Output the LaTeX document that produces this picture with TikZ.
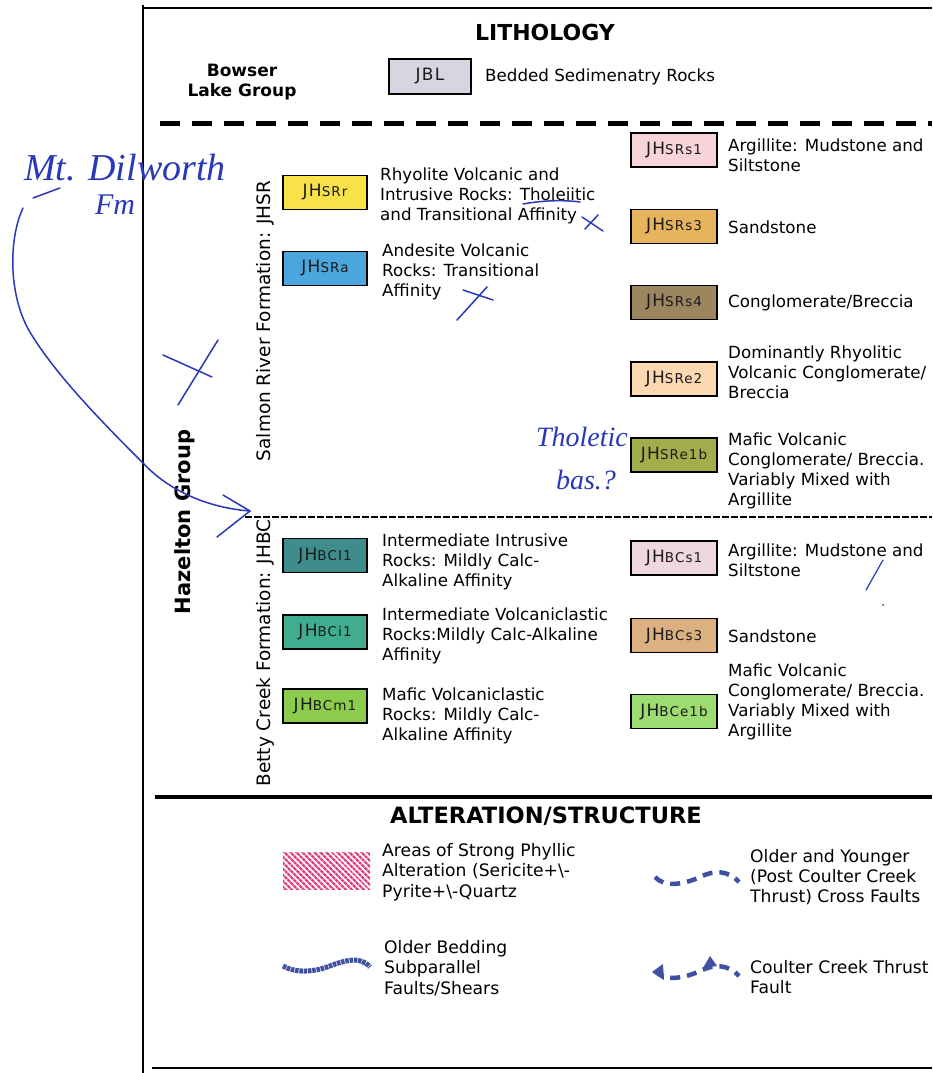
\documentclass[tikz,border=0pt]{standalone}
\usepackage{fontspec}
\setmainfont{DejaVu Sans}
\newfontfamily\hand{Liberation Serif}
\newfontfamily\lblfont{DejaVu Sans}[LetterSpace=8]
\usetikzlibrary{patterns.meta}
\definecolor{cJBL}{HTML}{D8D4E2}
\definecolor{cSRr}{HTML}{F7E24A}
\definecolor{cSRa}{HTML}{4AA6DC}
\definecolor{cSRsA}{HTML}{F8D4D8}
\definecolor{cSRsC}{HTML}{E6B45C}
\definecolor{cSRsD}{HTML}{9C8660}
\definecolor{cSReB}{HTML}{FCD9B0}
\definecolor{cSReA}{HTML}{A2AE4C}
\definecolor{cBCIa}{HTML}{3E8C8C}
\definecolor{cBCIb}{HTML}{40AC90}
\definecolor{cBCm}{HTML}{8CCC4C}
\definecolor{cBCsA}{HTML}{EED8DE}
\definecolor{cBCsC}{HTML}{DCB080}
\definecolor{cBCe}{HTML}{9CDC70}
\definecolor{hatchpink}{HTML}{E0407F}
\definecolor{faultblue}{HTML}{4050A0}
\definecolor{ink}{HTML}{2838B8}
\definecolor{lbltext}{HTML}{1A1A1A}
\newcommand{\smc}[1]{{\fontsize{13.5}{13.5}\selectfont #1}}
\tikzset{
  unitbox/.style={draw=black, line width=1.3pt, minimum width=84pt, minimum height=34pt, inner sep=0pt, text=lbltext, font=\lblfont\fontsize{17}{17}\selectfont},
  desc/.style={anchor=west, align=left, inner sep=0pt, font=\fontsize{16.7}{20}\selectfont},
  altdesc/.style={desc, font=\fontsize{17.2}{20.4}\selectfont},
  head/.style={font=\fontsize{22}{22}\selectfont\bfseries, inner sep=0pt},
  vert/.style={rotate=90, inner sep=0pt, font=\fontsize{18.5}{18.5}\selectfont},
  fault/.style={draw=faultblue, line width=4.5pt},
  inkline/.style={draw=ink, line width=1.5pt, line cap=round, line join=round},
  inktext/.style={text=ink, inner sep=0pt, font=\hand\itshape}
}
\begin{document}
\begin{tikzpicture}[x=1pt,y=-1pt]
\useasboundingbox (0,0) rectangle (932,1073);
\fill[white] (0,0) rectangle (932,1073);
% frame
\draw[line width=2.2pt] (143,5) -- (143,1073);
\draw[line width=2pt] (143,8) -- (932,8);
\draw[line width=5pt, dash pattern=on 20pt off 12pt] (160,123) -- (932,123);
\draw[line width=2.5pt, dash pattern=on 7pt off 2pt] (245,517) -- (932,517);
\draw[line width=4pt] (155,797) -- (932,797);
\draw[line width=2.5pt] (152,1068) -- (932,1068);

% headings
\node[head] (lith) at (545,32) {LITHOLOGY};
\node[head, font=\fontsize{17}{20}\selectfont\bfseries, align=center] (bowser) at (242,82) {Bowser\\Lake Group};
\node[unitbox, fill=cJBL, minimum width=82pt, minimum height=35pt] (jbl) at (430,76.5) {JBL};
\node[desc] (jbltx) at (485,77) {Bedded Sedimenatry Rocks};

\node[vert, font=\fontsize{21}{21}\selectfont\bfseries] (haz) at (185,522) {Hazelton Group};
\node[vert] (srf) at (265,321) {Salmon River Formation: JHSR};
\node[vert] (bcf) at (265,653) {Betty Creek Formation: JHBC};

% left column units
\node[unitbox, fill=cSRr] (srr) at (325,192.5) {JH\smc{SRr}};
\node[desc] (srrtx) at (380,196) {Rhyolite Volcanic and\\Intrusive Rocks: Tholeiitic\\and Transitional Affinity};
\node[unitbox, fill=cSRa] (sra) at (325,268.5) {JH\smc{SRa}};
\node[desc] (sratx) at (382,272) {Andesite Volcanic\\Rocks: Transitional\\Affinity};
\node[unitbox, fill=cBCIa] (bcia) at (325,555.5) {JH\smc{BCI1}};
\node[desc] (bciatx) at (382,562) {Intermediate Intrusive\\Rocks: Mildly Calc-\\Alkaline Affinity};
\node[unitbox, fill=cBCIb] (bcib) at (325,632) {JH\smc{BCi1}};
\node[desc] (bcibtx) at (382,636) {Intermediate Volcaniclastic\\Rocks:Mildly Calc-Alkaline\\Affinity};
\node[unitbox, fill=cBCm] (bcm) at (325,706) {JH\smc{BCm1}};
\node[desc] (bcmtx) at (382,716) {Mafic Volcaniclastic\\Rocks: Mildly Calc-\\Alkaline Affinity};

% right column units
\node[unitbox, fill=cSRsA, minimum width=86pt] (srs1) at (674,150) {JH\smc{SRs1}};
\node[desc] (srs1tx) at (728,155) {Argillite: Mudstone and\\Siltstone};
\node[unitbox, fill=cSRsC, minimum width=86pt] (srs3) at (674,226.5) {JH\smc{SRs3}};
\node[desc] (srs3tx) at (728,227) {Sandstone};
\node[unitbox, fill=cSRsD, minimum width=86pt] (srs4) at (674,302.5) {JH\smc{SRs4}};
\node[desc] (srs4tx) at (728,303) {Conglomerate/Breccia};
\node[unitbox, fill=cSReB, minimum width=86pt] (sre2) at (674,379) {JH\smc{SRe2}};
\node[desc] (sre2tx) at (728,372) {Dominantly Rhyolitic\\Volcanic Conglomerate/\\Breccia};
\node[unitbox, fill=cSReA, minimum width=86pt] (sre1b) at (674,455) {JH\smc{SRe1b}};
\node[desc] (sre1btx) at (728,471) {Mafic Volcanic\\Conglomerate/ Breccia.\\Variably Mixed with\\Argillite};
\node[unitbox, fill=cBCsA, minimum width=86pt] (bcs1) at (674,558) {JH\smc{BCs1}};
\node[desc] (bcs1tx) at (728,560) {Argillite: Mudstone and\\Siltstone};
\node[unitbox, fill=cBCsC, minimum width=86pt] (bcs3) at (674,635.5) {JH\smc{BCs3}};
\node[desc] (bcs3tx) at (728,636) {Sandstone};
\node[unitbox, fill=cBCe, minimum width=86pt] (bce1b) at (674,711.5) {JH\smc{BCe1b}};
\node[desc] (bce1btx) at (728,702) {Mafic Volcanic\\Conglomerate/ Breccia.\\Variably Mixed with\\Argillite};

% alteration / structure
\node[head, font=\fontsize{22.5}{22.5}\selectfont\bfseries] (alt) at (546,816) {ALTERATION/STRUCTURE};
\path[pattern={Lines[angle=-45,distance=4pt,line width=2.6pt]}, pattern color=hatchpink] (283,852) rectangle (370,889);
\node[altdesc] (phyl) at (382,872) {Areas of Strong Phyllic\\Alteration (Sericite+\textbackslash-\\Pyrite+\textbackslash-Quartz};
\draw[fault, dash pattern=on 10pt off 7pt] (655,877) .. controls (665,888) and (685,884) .. (700,877) .. controls (714,870) and (728,870) .. (739,882);
\node[altdesc] (cross) at (750,877) {Older and Younger\\(Post Coulter Creek\\Thrust) Cross Faults};
\draw[fault, line width=5pt, dash pattern=on 3.5pt off 0.8pt] (283,966) .. controls (293,972) and (310,973) .. (327,967) .. controls (343,961) and (360,955) .. (370,967);
\node[altdesc] (bed) at (384,968) {Older Bedding\\Subparallel\\Faults/Shears};
\draw[fault, dash pattern=on 10pt off 7pt] (655,971) .. controls (665,982) and (685,978) .. (700,971) .. controls (714,964) and (728,964) .. (739,976);
\fill[faultblue] (652,972) -- (663,964) -- (664,980) -- cycle;
\fill[faultblue] (703,968) -- (710,956) -- (717,966) -- cycle;
\node[altdesc] (thrust) at (750,977) {Coulter Creek Thrust\\Fault};

% handwritten annotations
\node[inktext, font=\hand\itshape\fontsize{38}{38}\selectfont] (mtd) at (125,168) {Mt. Dilworth};
\node[inktext, font=\hand\itshape\fontsize{30}{30}\selectfont] (fm) at (115,205) {Fm};
\coordinate (arrs) at (23,208);
\coordinate (arre) at (250,511);
\draw[inkline] (60,188) -- (33,198);
\draw[inkline] (arrs) .. controls (8,240) and (8,300) .. (33,337)
  .. controls (60,380) and (110,430) .. (143,463)
  .. controls (170,492) and (210,508) .. (arre);
\draw[inkline] (223,495) -- (arre) -- (217,537);
\draw[inkline] (163,355) -- (212,377);
\draw[inkline] (218,340) -- (178,405);
\draw[inkline] (523,204) .. controls (545,200) and (565,200) .. (580,202);
\draw[inkline] (582,217) -- (603,231);
\draw[inkline] (598,215) -- (585,229);
\draw[inkline] (463,290) -- (493,300);
\draw[inkline] (487,287) -- (457,320);
\node[inktext, font=\hand\itshape\fontsize{28}{28}\selectfont] (thol) at (582,437) {Tholetic};
\node[inktext, font=\hand\itshape\fontsize{28}{28}\selectfont] (bas) at (586,480) {bas.?};
\draw[inkline, line width=1.2pt] (883,560) -- (866,590);
\fill[ink] (883,605) circle (1pt);
\end{tikzpicture}
\end{document}
